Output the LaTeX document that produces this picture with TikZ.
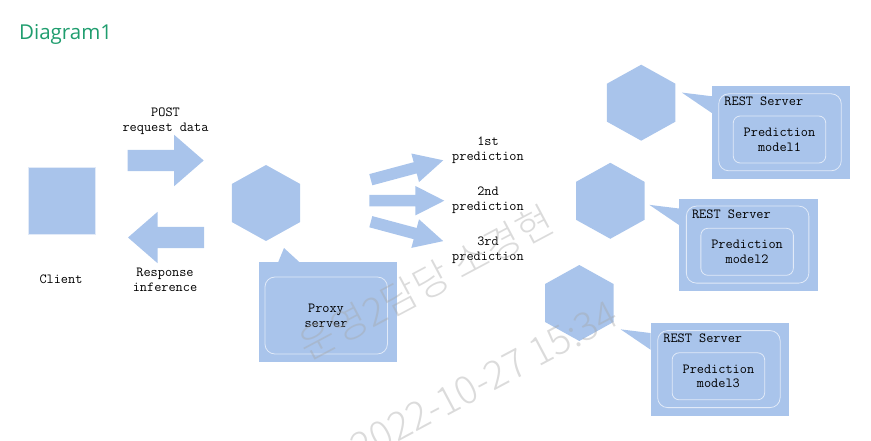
\documentclass[tikz,border=0pt]{standalone}
\usepackage{fontspec}
\newfontfamily\titlefont{Open Sans}
\newfontfamily\markfont{Noto Sans CJK KR Light}
\usetikzlibrary{shapes.geometric}
\usetikzlibrary{shapes.arrows}
\usetikzlibrary{positioning}
\definecolor{shapeblue}{HTML}{A9C4EB}
\definecolor{titlegreen}{HTML}{1F9D6E}
\begin{document}
\begin{tikzpicture}
		[
			x = 1pt, y = -1pt,
			client/.style = {rectangle, fill = shapeblue, draw = white!65!shapeblue, thick, minimum size = 67pt, inner sep = 0pt},
			hexa/.style = {regular polygon, regular polygon sides = 6, shape border rotate = 30, fill = shapeblue, minimum size = 76pt, inner sep = 0pt, outer sep = 0pt, xscale = 1.04, transform shape},
			bigarrow/.style = {single arrow, anchor = tail, fill = shapeblue, minimum height = 76pt, minimum width = 51pt, single arrow head extend = 15pt, single arrow tip angle = 82, inner xsep = 0pt, inner ysep = 10.5pt, outer sep = 0pt},
			thinarrow/.style = {single arrow, anchor = tail, fill = shapeblue, minimum height = 75pt, minimum width = 29.5pt, single arrow head extend = 9pt, single arrow tip angle = 54, inner xsep = 0pt, inner ysep = 5.6pt, outer sep = 0pt},
			bluebox/.style = {rectangle, fill = shapeblue, inner sep = 0pt, outer sep = 0pt},
			serverbox/.style = {bluebox, minimum width = 138.5pt, minimum height = 92.5pt},
			whiteframe/.style = {rectangle, rounded corners = 10pt, draw = white!65!shapeblue, thick, inner sep = 0pt},
			calltail/.style = {fill = shapeblue},
			textlabel/.style = {align = center, font = \ttfamily\fontsize{13.9}{14.7}\selectfont, text = black, inner sep = 0pt},
			watermark/.style = {text = black!35, opacity = 0.4, rotate = 28, inner sep = 0pt, font = \markfont\fontsize{39}{44}\selectfont},
		]
			%
			\useasboundingbox (0,0) rectangle (871,441);
			%
			\node (title) [anchor = west, text = titlegreen, font = \titlefont\fontsize{20.5}{24}\selectfont, inner sep = 0pt] at (19,34) {Diagram1};
			%
			\node (client) [client] at (61.5,200.5) {};
			\node (clientlabel) [textlabel] at (61,279.5) {Client};
			%
			\node (post) [bigarrow] at (127.7,160.5) {};
			\node (response) [bigarrow, rotate = 180] at (204,237.5) {};
			\node (postlabel) [textlabel] at (165.5,121) {POST\\request data};
			\node (responselabel) [textlabel] at (165,280) {Response\\inference};
			%
			\node (proxyhex) [hexa] at (266,203) {};
			\node (proxybox) [bluebox, minimum width = 138.5pt, minimum height = 100pt] at (328,312) {};
			\node (proxyframe) [whiteframe, minimum width = 122.5pt, minimum height = 77pt] at (326.2,315.5) {};
			\node (proxylabel) [textlabel] at (326,315.5) {Proxy\\server};
			\coordinate (proxytip) at (284,248);
			\fill [calltail] (proxytip) -- ([xshift = 19.5pt]proxybox.north west) -- ([xshift = 40.5pt]proxybox.north west) -- cycle;
			%
			\node (predA) [thinarrow, rotate = 15] at (370.8,179.7) {};
			\node (predB) [thinarrow] at (369.3,200.7) {};
			\node (predC) [thinarrow, rotate = -15] at (370.8,221.7) {};
			\node (predAlabel) [textlabel] at (488,150.5) {1st\\prediction};
			\node (predBlabel) [textlabel] at (488,200.5) {2nd\\prediction};
			\node (predClabel) [textlabel] at (488,250.5) {3rd\\prediction};
			%
			\node (hexA) [hexa] at (641.2,102.7) {};
			\node (hexB) [hexa] at (610.3,200.8) {};
			\node (hexC) [hexa] at (579.3,303) {};
			%
			\foreach \name/\cx/\cy/\num in {A/781/132.5/1, B/748.6/244.8/2, C/719.9/369.3/3}
			{
				\node (box\name) [serverbox] at (\cx,\cy) {};
				\node (outer\name) [whiteframe, minimum width = 122.5pt, minimum height = 77pt] at ([xshift = -1pt, yshift = 0.2pt]box\name.center) {};
				\node (inner\name) [whiteframe, minimum width = 92.5pt, minimum height = 47pt, rounded corners = 7pt] at ([xshift = -1.5pt, yshift = -7pt]box\name.center) {};
				\node (rest\name) [textlabel, anchor = west] at ([xshift = 12.5pt, yshift = -15.5pt]box\name.north west) {REST Server};
				\node (model\name) [textlabel] at (inner\name.center) {Prediction\\model\num};
				\coordinate (tip\name) at ([xshift = -30pt, yshift = -6.3pt]box\name.north west);
				\fill [calltail] (tip\name) -- ([yshift = -10pt]box\name.north west) -- ([yshift = -26.7pt]box\name.north west) -- cycle;
			}
			%
			\node (markA) [watermark] at (426,283) {운영2담당 소경현};
			\node (markB) [watermark] at (484,381) {2022-10-27 15:34};
			%
		\end{tikzpicture}
\end{document}
